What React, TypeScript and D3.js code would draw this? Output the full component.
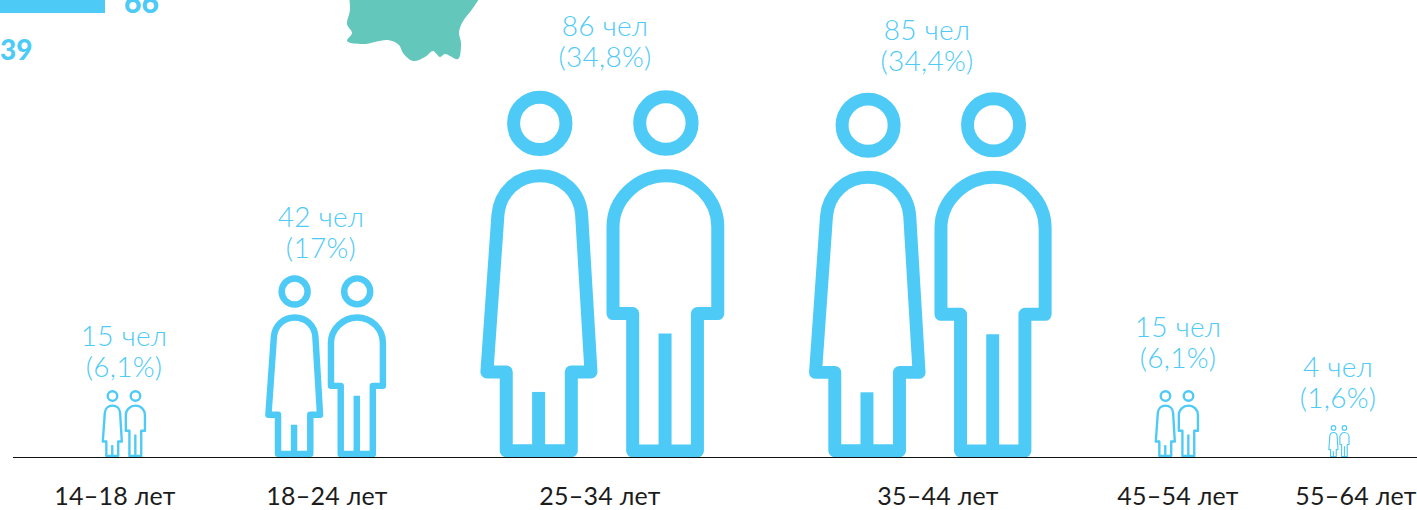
import * as d3 from 'd3';

// age groups and their counts
const ageGroups = ['14–18 лет', '18–24 лет', '25–34 лет', '35–44 лет', '45–54 лет', '55–64 лет'];
const peopleCounts = [15, 42, 86, 85, 15, 4];
const shareLabels = ['(6,1%)', '(17%)', '(34,8%)', '(34,4%)', '(6,1%)', '(1,6%)'];
const countLabels = ['15 чел', '42 чел', '86 чел', '85 чел', '15 чел', '4 чел'];

// the layout of the source is hand placed, so each group gets its own slot
const iconCentres = [124, 326, 603, 931, 1177, 1339];
const tickCentres = [115, 327, 600, 938, 1178, 1356];
const labelCentres = [124, 321, 605, 927, 1178, 1338];
const labelGaps = [13, 17, 23, 21, 22, 17];

// scraps of the neighbouring charts, cut by the page top
const scrapNumbers = ['66', '39'];
const teal = '#63c7bb';
const blue = '#4ecaf7';

const WIDTH = 1417;
const HEIGHT = 510;
const BASELINE = 457;
const ICON_H = 1100; // icon drawing units, baseline to head top

const x = d3.scaleOrdinal<string, number>().domain(ageGroups).range(iconCentres);
const tickX = d3.scaleOrdinal<string, number>().domain(ageGroups).range(tickCentres);
const labelX = d3.scaleOrdinal<string, number>().domain(ageGroups).range(labelCentres);
// icons are not to a zero based scale in the source
const iconHeight = d3.scaleLinear().domain([4, 15, 42, 85, 86]).range([32, 67, 182, 365, 367]);

// woman and man figures, in units where y=0 is the ground
const WOMAN_HEAD = 'M-268,-1000a78.5,78.5 0 1,0 157,0a78.5,78.5 0 1,0 -157,0Z';
const WOMAN_BODY = 'M-189,-843C-256,-843 -309,-795 -315,-725L-348,-255H-290V-19H-95V-255H-36L-64,-725C-69,-795 -122,-843 -189,-843Z';
const WOMAN_LEG = 'M-193,-195V-19';
const MAN_HEAD = 'M110,-1001a78.5,78.5 0 1,0 157,0a78.5,78.5 0 1,0 -157,0Z';
const MAN_BODY = 'M189,-843C102,-843 30,-772 30,-690V-430H89V-18H283V-430H344V-690C344,-772 276,-843 189,-843Z';
const MAN_LEG = 'M186,-370V-18';

const tealOutline: [number, number][] = [
  [349, -4], [350, 10], [347, 24], [352, 33], [347, 41], [363, 44], [388, 40], [399, 45],
  [403, 53], [413, 61], [425, 57], [433, 51], [440, 57], [445, 54], [458, 59], [461, 43],
  [459, 33], [462, 23], [473, 8], [481, -4],
];

const tealPath = d3.line().curve(d3.curveCatmullRom.alpha(0.5))(tealOutline) + 'Z';

const Figures = ({ value, cx }: { value: number; cx: number }) => {
  const k = iconHeight(value) / ICON_H;
  return (
    <g transform={`translate(${cx},${BASELINE}) scale(${k})`} fill="none" stroke={blue} strokeWidth={39} strokeLinejoin="round">
      <path d={WOMAN_HEAD} />
      <path d={WOMAN_BODY} />
      <path d={WOMAN_LEG} />
      <path d={MAN_HEAD} />
      <path d={MAN_BODY} />
      <path d={MAN_LEG} />
    </g>
  );
};

export default function App() {
  return (
    <svg width={WIDTH} height={HEIGHT} style={{ position: 'absolute', left: 0, top: 0 }} fontFamily="Lato">
      <rect x={0} y={-10} width={105} height={23} fill={blue} />
      <text x={124} y={13} fontSize={30} fontWeight={900} fill={blue}>{scrapNumbers[0]}</text>
      <text x={0} y={60} fontSize={28} fontWeight={900} fill={blue}>{scrapNumbers[1]}</text>
      <path d={tealPath} fill={teal} />

      {ageGroups.map((g, i) => {
        const top = BASELINE - iconHeight(peopleCounts[i]);
        return (
          <g key={g}>
            <Figures value={peopleCounts[i]} cx={x(g)} />
            <text x={labelX(g)} y={top - labelGaps[i] - 31} textAnchor="middle" fontSize={28} fontWeight={300} letterSpacing={0.3} fill={blue}>{countLabels[i]}</text>
            <text x={labelX(g)} y={top - labelGaps[i]} textAnchor="middle" fontSize={28} fontWeight={300} letterSpacing={0.3} fill={blue}>{shareLabels[i]}</text>
            <text x={tickX(g)} y={505} textAnchor="middle" fontSize={25} letterSpacing={0.25} fill="#1c1c1c">{g}</text>
          </g>
        );
      })}

      <line x1={13} x2={WIDTH} y1={BASELINE + 0.5} y2={BASELINE + 0.5} stroke="#111" strokeWidth={1} />
    </svg>
  );
}
